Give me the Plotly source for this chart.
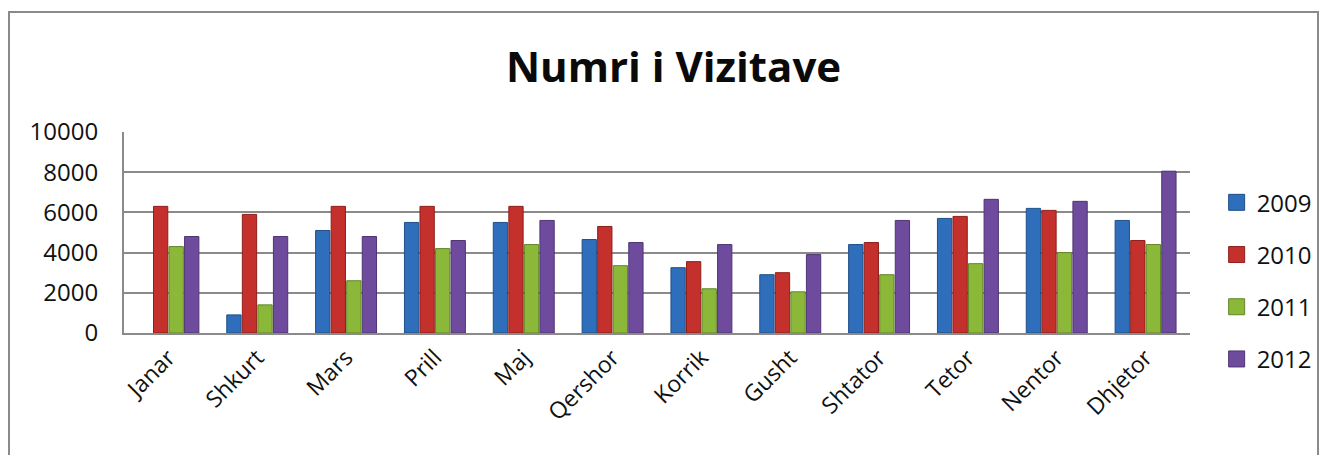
import plotly.graph_objects as go

months = ["Janar", "Shkurt", "Mars", "Prill", "Maj", "Qershor", "Korrik",
          "Gusht", "Shtator", "Tetor", "Nentor", "Dhjetor"]
v2009 = [None, 900, 5100, 5500, 5500, 4650, 3250, 2900, 4400, 5700, 6200, 5600]
v2010 = [6300, 5900, 6300, 6300, 6300, 5300, 3550, 3000, 4500, 5800, 6100, 4600]
v2011 = [4300, 1400, 2600, 4200, 4400, 3350, 2200, 2050, 2900, 3450, 4000, 4400]
v2012 = [4800, 4800, 4800, 4600, 5600, 4500, 4400, 3900, 5600, 6650, 6550, 8050]
series_names = ["2009", "2010", "2011", "2012"]
colors = ["#2F6EBA", "#C4302B", "#8CB83A", "#6F4B9E"]
edges = ["#1F4F8A", "#8E1F1B", "#62862A", "#4E3472"]

fig = go.Figure()
for name, vals, c, e in zip(series_names, [v2009, v2010, v2011, v2012], colors, edges):
    fig.add_trace(go.Bar(x=months, y=vals, name=name, legendgroup=name, showlegend=False,
                         marker=dict(color=c, line=dict(color=e, width=1))))
# legend entries with larger square swatches
for name, c, e in zip(series_names, colors, edges):
    fig.add_trace(go.Scatter(x=[None], y=[None], mode="markers", name=name,
                             legendgroup=name,
                             marker=dict(symbol="square", size=16, color=c,
                                         line=dict(color=e, width=1))))

font_family = "Open Sans, Liberation Sans, sans-serif"
# the page body adds an 8px offset; layout positions compensate for it
fig.update_layout(
    width=1330, height=455,
    margin=dict(l=116, r=148, t=124, b=130),
    paper_bgcolor="white", plot_bgcolor="white",
    barmode="group", bargap=0.30, bargroupgap=0.08,
    font=dict(family=font_family, size=23, color="#111111"),
    title=dict(text="<b>Numri i Vizitave</b>", x=0.5004, xanchor="center",
               y=1 - 59 / 455, yanchor="middle",
               font=dict(family=font_family, size=42, color="#0a0a0a")),
    showlegend=True,
    legend=dict(x=1.025, xanchor="left", y=0.26, yanchor="middle",
                tracegroupgap=18, font=dict(size=24),
                bgcolor="rgba(0,0,0,0)"),
    xaxis=dict(tickangle=-45, showline=True, linecolor="#8a8a8a", linewidth=2,
               showgrid=False, ticks="", tickfont=dict(size=23)),
    yaxis=dict(range=[0, 10000], dtick=2000, tickformat="d", showgrid=True,
               gridcolor="#8a8a8a", gridwidth=2, showline=True, linecolor="#8a8a8a",
               linewidth=2, zeroline=False, ticks="", ticklabelstandoff=19,
               tickfont=dict(size=24)),
    shapes=[dict(type="rect", xref="paper", yref="paper",
                 x0=(1 - 116) / 1066, x1=(1310 - 116) / 1066,
                 y0=(325 - 470) / 201, y1=(325 - 4) / 201,
                 line=dict(color="#8a8a8a", width=2), fillcolor="rgba(0,0,0,0)",
                 layer="below")],
)

fig.write_html("out.html")
